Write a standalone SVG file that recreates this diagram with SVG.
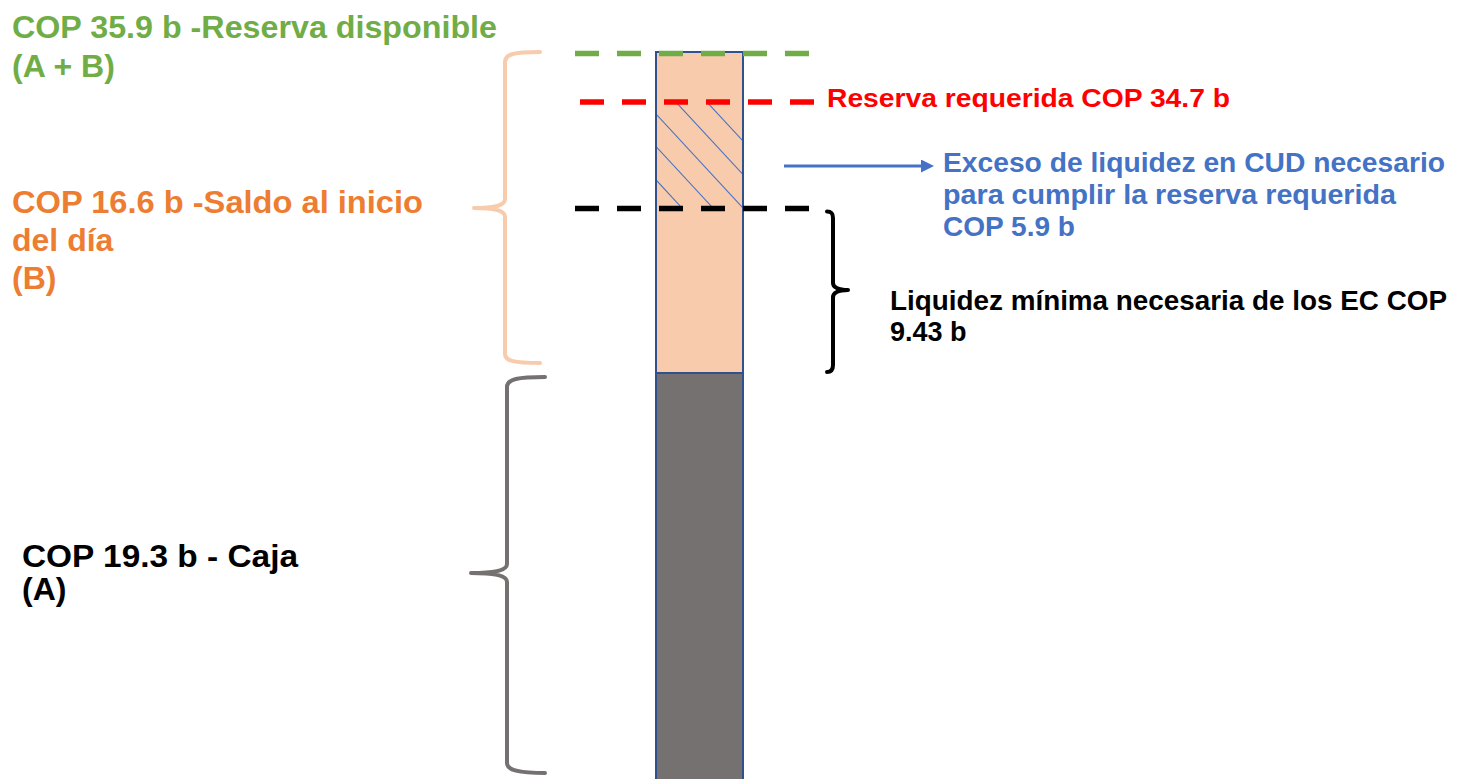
<svg xmlns="http://www.w3.org/2000/svg" width="1457" height="779" viewBox="0 0 1457 779">
  <style>
    .t { font-family: "Liberation Sans", Arial, sans-serif; font-weight: bold; }
    .green { fill: #70AD47; }
    .orange { fill: #ED7D31; }
    .black { fill: #000000; }
    .red { fill: #FF0000; }
    .blue { fill: #4472C4; }
    .dash { fill: none; stroke-width: 5.5; stroke-dasharray: 24 18; }
    .brace { fill: none; stroke-width: 4; stroke-linecap: round; stroke-linejoin: round; }
    .hatch { stroke: #4472C4; stroke-width: 1.1; }
  </style>
  <defs>
    <clipPath id="hatchClip">
      <rect x="656" y="102" width="87" height="106"/>
    </clipPath>
    <marker id="arrowHead" markerWidth="14" markerHeight="14" refX="0" refY="6.5" orient="auto" markerUnits="userSpaceOnUse">
      <path d="M0,0 L13,6.5 L0,13 Z" fill="#4472C4"/>
    </marker>
  </defs>
  <rect width="1457" height="779" fill="#FFFFFF"/>

  <g id="bar">
    <rect x="656" y="52" width="87" height="321" fill="#F8CBAD" stroke="none"/>
    <g clip-path="url(#hatchClip)">
      <line class="hatch" x1="682" y1="208" x2="582" y2="100"/>
      <line class="hatch" x1="713" y1="208" x2="613" y2="100"/>
      <line class="hatch" x1="743" y1="208" x2="643" y2="100"/>
      <line class="hatch" x1="774" y1="208" x2="674" y2="100"/>
      <line class="hatch" x1="805" y1="208" x2="705" y2="100"/>
    </g>
    <rect x="656" y="52" width="87" height="321" fill="none" stroke="#2F528F" stroke-width="2"/>
    <rect x="656" y="373" width="87" height="420" fill="#767171" stroke="#2F528F" stroke-width="2"/>
  </g>

  <g id="levels">
    <line class="dash" x1="575" y1="53.5" x2="810" y2="53.5" stroke="#70AD47"/>
    <line class="dash" x1="580" y1="102" x2="815" y2="102" stroke="#FF0000"/>
    <line class="dash" x1="575" y1="208.5" x2="810" y2="208.5" stroke="#000000"/>
  </g>

  <g id="braces">
    <path class="brace" stroke="#F8CBAD" d="M540,52 C514,52 505,54 505,62 L505,199 C505,205 496,208 474,208 C496,208 505,211 505,217 L505,354 C505,361 514,363 540,363"/>
    <path class="brace" stroke="#767171" d="M545,377 C518,377 507,379 507,387 L507,564 C507,570 496,573 471,573 C496,573 507,576 507,582 L507,763 C507,770 518,773 545,773"/>
    <path class="brace" stroke="#000000" stroke-width="3.5" d="M827,211.5 C831,211.5 833,213 833,218 L833,283 C833,287 838,290 848,290 C838,290 833,293 833,297 L833,365 C833,370 831,372 827,372"/>
  </g>

  <g id="connectors">
    <line x1="784" y1="166" x2="921" y2="166" stroke="#4472C4" stroke-width="3" marker-end="url(#arrowHead)"/>
  </g>

  <g id="label-disponible">
    <text class="t green" x="12" y="38" font-size="32" textLength="485" lengthAdjust="spacingAndGlyphs">COP 35.9 b -Reserva disponible</text>
    <text class="t green" x="12" y="77" font-size="32">(A + B)</text>
  </g>
  <g id="label-saldo">
    <text class="t orange" x="12" y="213" font-size="32" textLength="411" lengthAdjust="spacingAndGlyphs">COP 16.6 b -Saldo al inicio</text>
    <text class="t orange" x="12" y="251" font-size="32">del día</text>
    <text class="t orange" x="12" y="289" font-size="32">(B)</text>
  </g>
  <g id="label-caja">
    <text class="t black" x="22" y="567" font-size="32" textLength="276" lengthAdjust="spacingAndGlyphs">COP 19.3 b - Caja</text>
    <text class="t black" x="22" y="600" font-size="32">(A)</text>
  </g>
  <g id="label-requerida">
    <text class="t red" x="827" y="107" font-size="26" textLength="403" lengthAdjust="spacingAndGlyphs">Reserva requerida COP 34.7 b</text>
  </g>
  <g id="label-exceso">
    <text class="t blue" x="943" y="172" font-size="28" textLength="502" lengthAdjust="spacingAndGlyphs">Exceso de liquidez en CUD necesario</text>
    <text class="t blue" x="943" y="204" font-size="28" textLength="453" lengthAdjust="spacingAndGlyphs">para cumplir la reserva requerida</text>
    <text class="t blue" x="943" y="236" font-size="28" textLength="132" lengthAdjust="spacingAndGlyphs">COP 5.9 b</text>
  </g>
  <g id="label-liquidez">
    <text class="t black" x="890" y="310" font-size="27" textLength="557" lengthAdjust="spacingAndGlyphs">Liquidez mínima necesaria de los EC COP</text>
    <text class="t black" x="890" y="341" font-size="27">9.43 b</text>
  </g>
</svg>
